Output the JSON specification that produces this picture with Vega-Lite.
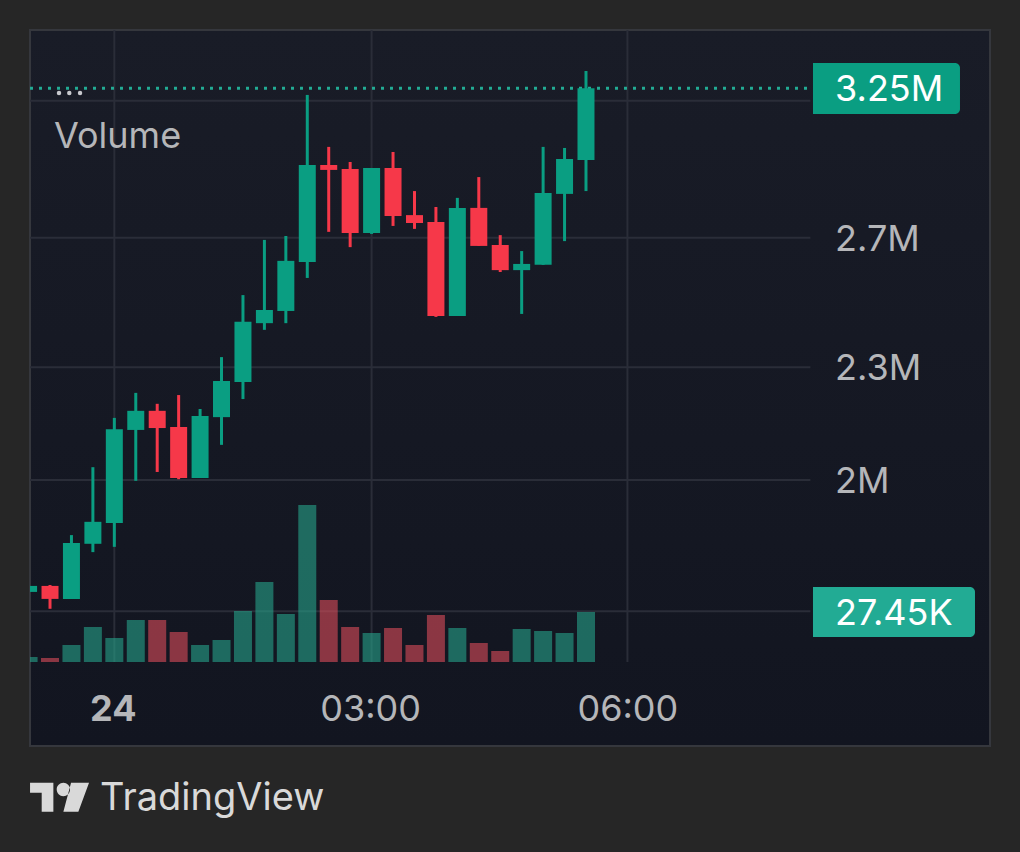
{
  "$schema": "https://vega.github.io/schema/vega-lite/v6.json",
  "autosize": "none",
  "width": 960,
  "height": 716,
  "padding": {"left": 30, "top": 30, "right": 30, "bottom": 106},
  "background": "#262626",
  "view": {
    "stroke": "#35373d",
    "strokeWidth": 2,
    "fill": {
      "gradient": "linear",
      "x1": 0, "y1": 0, "x2": 0, "y2": 1,
      "stops": [
        {"offset": 0, "color": "#191c27"},
        {"offset": 1, "color": "#121520"}
      ]
    }
  },
  "config": {"font": "Inter"},
  "datasets": {
    "candles": [
      {"time": "2024-05-23T23:00:00Z", "open": 1741000, "high": 1754000, "low": 1741000, "close": 1754000, "volume": 2745},
      {"time": "2024-05-23T23:15:00Z", "open": 1754000, "high": 1756000, "low": 1705000, "close": 1726000, "volume": 2196},
      {"time": "2024-05-23T23:30:00Z", "open": 1726000, "high": 1868000, "low": 1726000, "close": 1850000, "volume": 9333},
      {"time": "2024-05-23T23:45:00Z", "open": 1848000, "high": 2032000, "low": 1829000, "close": 1899000, "volume": 19215},
      {"time": "2024-05-24T00:00:00Z", "open": 1896000, "high": 2160000, "low": 1841000, "close": 2130000, "volume": 13176},
      {"time": "2024-05-24T00:15:00Z", "open": 2128000, "high": 2228000, "low": 1998000, "close": 2179000, "volume": 23058},
      {"time": "2024-05-24T00:30:00Z", "open": 2179000, "high": 2198000, "low": 2020000, "close": 2133000, "volume": 23058},
      {"time": "2024-05-24T00:45:00Z", "open": 2136000, "high": 2222000, "low": 2002000, "close": 2005000, "volume": 16470},
      {"time": "2024-05-24T01:00:00Z", "open": 2005000, "high": 2184000, "low": 2005000, "close": 2165000, "volume": 9333},
      {"time": "2024-05-24T01:15:00Z", "open": 2162000, "high": 2329000, "low": 2089000, "close": 2261000, "volume": 12078},
      {"time": "2024-05-24T01:30:00Z", "open": 2258000, "high": 2515000, "low": 2211000, "close": 2433000, "volume": 27999},
      {"time": "2024-05-24T01:45:00Z", "open": 2429000, "high": 2693000, "low": 2409000, "close": 2469000, "volume": 43920},
      {"time": "2024-05-24T02:00:00Z", "open": 2466000, "high": 2706000, "low": 2429000, "close": 2624000, "volume": 26352},
      {"time": "2024-05-24T02:15:00Z", "open": 2620000, "high": 3223000, "low": 2569000, "close": 2955000, "volume": 86193},
      {"time": "2024-05-24T02:30:00Z", "open": 2955000, "high": 3022000, "low": 2720000, "close": 2937000, "volume": 34038},
      {"time": "2024-05-24T02:45:00Z", "open": 2940000, "high": 2966000, "low": 2669000, "close": 2716000, "volume": 19215},
      {"time": "2024-05-24T03:00:00Z", "open": 2716000, "high": 2944000, "low": 2713000, "close": 2944000, "volume": 15921},
      {"time": "2024-05-24T03:15:00Z", "open": 2944000, "high": 3003000, "low": 2740000, "close": 2774000, "volume": 18666},
      {"time": "2024-05-24T03:30:00Z", "open": 2777000, "high": 2861000, "low": 2730000, "close": 2750000, "volume": 9333},
      {"time": "2024-05-24T03:45:00Z", "open": 2753000, "high": 2805000, "low": 2448000, "close": 2451000, "volume": 25803},
      {"time": "2024-05-24T04:00:00Z", "open": 2451000, "high": 2837000, "low": 2451000, "close": 2802000, "volume": 18666},
      {"time": "2024-05-24T04:15:00Z", "open": 2802000, "high": 2911000, "low": 2673000, "close": 2673000, "volume": 10431},
      {"time": "2024-05-24T04:30:00Z", "open": 2676000, "high": 2709000, "low": 2588000, "close": 2594000, "volume": 6039},
      {"time": "2024-05-24T04:45:00Z", "open": 2594000, "high": 2656000, "low": 2457000, "close": 2614000, "volume": 18117},
      {"time": "2024-05-24T05:00:00Z", "open": 2611000, "high": 3022000, "low": 2611000, "close": 2854000, "volume": 17019},
      {"time": "2024-05-24T05:15:00Z", "open": 2851000, "high": 3018000, "low": 2689000, "close": 2977000, "volume": 15921},
      {"time": "2024-05-24T05:30:00Z", "open": 2973000, "high": 3320000, "low": 2861000, "close": 3250000, "volume": 27450}
    ]
  },
  "encoding": {
    "x": {
      "field": "time",
      "type": "temporal",
      "axis": null,
      "scale": {"type": "utc", "padding": 0, "domain": ["2024-05-23T23:01:00Z", "2024-05-24T10:12:40Z"]}
    }
  },
  "resolve": {"scale": {"y": "independent"}},
  "layer": [
    {
      "encoding": {
        "y": {
          "field": "price",
          "type": "quantitative",
          "axis": null,
          "scale": {"type": "log", "domain": [1438400, 3493000], "nice": false, "zero": false}
        }
      },
      "layer": [
        {
          "data": {
            "values": [
              {"time": "2024-05-24T00:00:00Z", "price": 3493000, "bottom": 1596000},
              {"time": "2024-05-24T03:00:00Z", "price": 3493000, "bottom": 1596000},
              {"time": "2024-05-24T05:59:00Z", "price": 3493000, "bottom": 1596000}
            ]
          },
          "mark": {"type": "rule", "color": "#2a2d38", "strokeWidth": 2},
          "encoding": {"y2": {"field": "bottom"}}
        },
        {
          "data": {
            "values": [
              {"time": "2024-05-23T23:01:00Z", "end": "2024-05-24T08:07:00Z", "price": 2000000},
              {"time": "2024-05-23T23:01:00Z", "end": "2024-05-24T08:07:00Z", "price": 2300000},
              {"time": "2024-05-23T23:01:00Z", "end": "2024-05-24T08:07:00Z", "price": 2700000},
              {"time": "2024-05-23T23:01:00Z", "end": "2024-05-24T08:07:00Z", "price": 3200000}
            ],
            "format": {"parse": {"end": "date"}}
          },
          "mark": {"type": "rule", "color": "#2a2d38", "strokeWidth": 2},
          "encoding": {"x2": {"field": "end"}}
        },
        {
          "data": {
            "values": [
              {"time": "2024-05-23T23:01:00Z", "end": "2024-05-24T08:07:00Z", "price": 3250000}
            ],
            "format": {"parse": {"end": "date"}}
          },
          "mark": {"type": "rule", "color": "#22ab94", "strokeWidth": 3, "strokeDash": [3, 6]},
          "encoding": {"x2": {"field": "end"}}
        },
        {
          "data": {"name": "candles"},
          "mark": {"type": "rule", "strokeWidth": 3, "clip": true},
          "encoding": {
            "y": {"field": "high", "type": "quantitative"},
            "y2": {"field": "low"},
            "color": {"condition": {"test": "datum.close >= datum.open", "value": "#0a9e82"}, "value": "#f63849"}
          }
        },
        {
          "data": {"name": "candles"},
          "mark": {"type": "bar", "width": 17, "clip": true},
          "encoding": {
            "y": {"field": "open", "type": "quantitative"},
            "y2": {"field": "close"},
            "color": {"condition": {"test": "datum.close >= datum.open", "value": "#0a9e82"}, "value": "#f63849"}
          }
        },
        {
          "data": {
            "values": [
              {"time": "2024-05-24T08:08:49Z", "end": "2024-05-24T09:51:40Z", "price": 3353000, "bottom": 3148000}
            ],
            "format": {"parse": {"end": "date"}}
          },
          "mark": {"type": "rect", "color": "#0a9e82", "cornerRadiusTopRight": 5, "cornerRadiusBottomRight": 5},
          "encoding": {"x2": {"field": "end"}, "y2": {"field": "bottom"}}
        },
        {
          "data": {
            "values": [
              {"time": "2024-05-24T08:25:00Z", "price": 3250000, "label": "3.25M", "tone": "white"},
              {"time": "2024-05-24T08:25:00Z", "price": 2700000, "label": "2.7M", "tone": "grey"},
              {"time": "2024-05-24T08:25:00Z", "price": 2300000, "label": "2.3M", "tone": "grey"},
              {"time": "2024-05-24T08:25:00Z", "price": 2000000, "label": "2M", "tone": "grey"},
              {"time": "2024-05-23T23:18:30Z", "price": 3067000, "label": "Volume", "tone": "grey"}
            ]
          },
          "mark": {"type": "text", "align": "left", "baseline": "middle", "fontSize": 36, "dx": -1, "dy": 2},
          "encoding": {
            "text": {"field": "label"},
            "color": {"condition": {"test": "datum.tone === 'white'", "value": "#ffffff"}, "value": "#b5b6b9"}
          }
        },
        {
          "data": {
            "values": [
              {"time": "2024-05-24T03:00:00Z", "price": 1508000, "label": "03:00"},
              {"time": "2024-05-24T06:00:00Z", "price": 1508000, "label": "06:00"}
            ]
          },
          "mark": {"type": "text", "align": "center", "baseline": "middle", "fontSize": 36, "dx": -1, "dy": 2, "color": "#b5b6b9"},
          "encoding": {"text": {"field": "label"}}
        },
        {
          "data": {"values": [{"time": "2024-05-24T00:00:00Z", "price": 1508000, "label": "24"}]},
          "mark": {"type": "text", "align": "center", "baseline": "middle", "fontSize": 36, "fontWeight": "bold", "dx": -1, "dy": 2, "color": "#b5b6b9"},
          "encoding": {"text": {"field": "label"}}
        },
        {
          "data": {
            "values": [
              {"time": "2024-05-23T23:21:18Z", "price": 3231000},
              {"time": "2024-05-23T23:28:30Z", "price": 3231000},
              {"time": "2024-05-23T23:36:00Z", "price": 3231000}
            ]
          },
          "mark": {"type": "circle", "size": 20, "color": "#c8c9ce", "opacity": 1}
        },
        {
          "data": {"values": [{"time": "2024-05-23T23:51:24Z", "price": 1350000, "label": "TradingView"}]},
          "mark": {"type": "text", "align": "left", "baseline": "middle", "fontSize": 38, "dx": -2, "dy": 2, "color": "#d9d9d9"},
          "encoding": {"text": {"field": "label"}}
        },
        {
          "data": {"values": [{"time": "2024-05-23T23:21:40Z", "price": 1350000}]},
          "mark": {
            "type": "point",
            "filled": true,
            "opacity": 1,
            "color": "#d9d9d9",
            "size": 3481,
            "shape": "M-1 -.486L-.209 -.486L-.209 .497L-.605 .497L-.605 -.147L-1 -.147ZM.39 -.486L1 -.486L.638 .497L.13 .497ZM-.096 -.26a.226 .226 0 1 0 .452 0a.226 .226 0 1 0 -.452 0Z"
          }
        }
      ]
    },
    {
      "encoding": {
        "y": {
          "field": "volume",
          "type": "quantitative",
          "axis": null,
          "scale": {"domain": [-46116, 346968], "nice": false, "zero": false}
        }
      },
      "layer": [
        {
          "data": {
            "values": [
              {"time": "2024-05-23T23:01:00Z", "end": "2024-05-24T08:07:00Z", "volume": 27800}
            ],
            "format": {"parse": {"end": "date"}}
          },
          "mark": {"type": "rule", "color": "#2a2d38", "strokeWidth": 2},
          "encoding": {"x2": {"field": "end"}}
        },
        {
          "data": {"name": "candles"},
          "mark": {"type": "bar", "width": 18, "opacity": 0.6, "clip": true},
          "encoding": {
            "y2": {"datum": 0},
            "color": {"condition": {"test": "datum.close >= datum.open", "value": "#26a38a"}, "value": "#dc4d5a"}
          }
        },
        {
          "data": {
            "values": [
              {"time": "2024-05-24T08:08:49Z", "end": "2024-05-24T10:02:10Z", "volume": 41175, "bottom": 13725}
            ],
            "format": {"parse": {"end": "date"}}
          },
          "mark": {"type": "rect", "color": "#22ab94", "cornerRadiusTopRight": 5, "cornerRadiusBottomRight": 5},
          "encoding": {"x2": {"field": "end"}, "y2": {"field": "bottom"}}
        },
        {
          "data": {"values": [{"time": "2024-05-24T08:25:00Z", "volume": 27450, "label": "27.45K"}]},
          "mark": {"type": "text", "align": "left", "baseline": "middle", "fontSize": 36, "dx": -1, "dy": 2, "color": "#ffffff"},
          "encoding": {"text": {"field": "label"}}
        }
      ]
    }
  ]
}
